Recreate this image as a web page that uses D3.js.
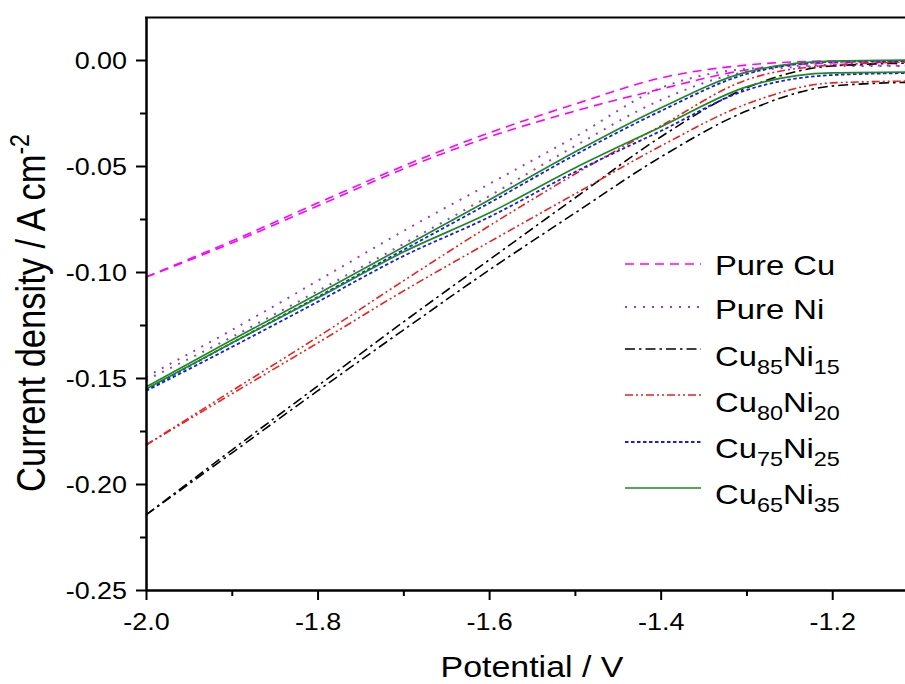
<!DOCTYPE html>
<html>
<head>
<meta charset="utf-8">
<script src="https://cdn.jsdelivr.net/npm/d3@7"></script>
<style>
  html, body { margin: 0; padding: 0; background: #fff; }
  svg { display: block; font-family: "Liberation Sans", Arial, sans-serif; }
</style>
</head>
<body>
<div id="chart"></div>
<script>
// potential (V) and the two scan branches of every curve (A cm-2)
const potential = [-2.0, -1.9, -1.8, -1.7, -1.6, -1.5, -1.4, -1.3, -1.2, -1.1];

const pureCuA = [-0.1024, -0.0854, -0.0675, -0.0500, -0.0344, -0.0208, -0.0085, -0.0024, -0.0005, -0.0005];
const pureCuB = [-0.1024, -0.0863, -0.0689, -0.0514, -0.0363, -0.0241, -0.0137, -0.0047, -0.0014, -0.0009];

const pureNiA = [-0.1495, -0.1274, -0.1042, -0.0807, -0.0585, -0.0363, -0.0132, -0.0042, -0.0024, -0.0028];
const pureNiB = [-0.1510, -0.1307, -0.1090, -0.0868, -0.0642, -0.0406, -0.0189, -0.0057, -0.0028, -0.0028];

const cu85A = [-0.2146, -0.1840, -0.1538, -0.1236, -0.0943, -0.0651, -0.0363, -0.0132, -0.0028, -0.0014];
const cu85B = [-0.2146, -0.1854, -0.1561, -0.1274, -0.0991, -0.0722, -0.0458, -0.0241, -0.0123, -0.0104];

const cu80A = [-0.1816, -0.1561, -0.1307, -0.1042, -0.0783, -0.0538, -0.0311, -0.0094, -0.0024, -0.0009];
const cu80B = [-0.1816, -0.1575, -0.1335, -0.1090, -0.0859, -0.0632, -0.0406, -0.0208, -0.0108, -0.0099];

const cu75A = [-0.1557, -0.1335, -0.1118, -0.0896, -0.0675, -0.0448, -0.0241, -0.0066, -0.0009, -0.0005];
const cu75B = [-0.1561, -0.1354, -0.1141, -0.0925, -0.0741, -0.0528, -0.0335, -0.0142, -0.0071, -0.0061];

const cu65A = [-0.1542, -0.1321, -0.1104, -0.0882, -0.0660, -0.0434, -0.0226, -0.0057, -0.0005, 0.0000];
const cu65B = [-0.1552, -0.1335, -0.1123, -0.0906, -0.0722, -0.0509, -0.0316, -0.0127, -0.0061, -0.0057];

// legend labels: [text, subscript, text, subscript]
const labels = [
    ["Pure Cu"],
    ["Pure Ni"],
    ["Cu", "85", "Ni", "15"],
    ["Cu", "80", "Ni", "20"],
    ["Cu", "75", "Ni", "25"],
    ["Cu", "65", "Ni", "35"]
];

const xTicks = [-2.0, -1.8, -1.6, -1.4, -1.2];
const yTicks = [0.00, -0.05, -0.10, -0.15, -0.20, -0.25];

// styles per curve
const styles = [
    { color: "#ff00ff", dash: "9,6", width: 1.6 },
    { color: "#9a3ccc", dash: "2,7", width: 2 },
    { color: "#000000", dash: "10,4,2.5,4", width: 1.6 },
    { color: "#f01e1e", dash: "8,3,2,3,2,3", width: 1.6 },
    { color: "#1a1aee", dash: "3.5,2.5", width: 1.8 },
    { color: "#1c8a1c", dash: null, width: 1.7 }
];

const branches = [
    [pureCuA, pureCuB], [pureNiA, pureNiB], [cu85A, cu85B],
    [cu80A, cu80B], [cu75A, cu75B], [cu65A, cu65B]
];

const width = 905, height = 684;
const margin = { left: 146, top: 17.6, right: -13, bottom: 94 };
const sx = 1.17; // text in the figure is a bit wider than tall

const svg = d3.select("#chart").append("svg")
    .attr("width", width)
    .attr("height", height);

const x = d3.scaleLinear()
    .domain([-2.0, -1.1])
    .range([margin.left, width - margin.right]);

const y = d3.scaleLinear()
    .domain([-0.25, 0.02])
    .range([height - margin.bottom, margin.top]);

// curves
const line = d3.line()
    .x(d => x(d[0]))
    .y(d => y(d[1]))
    .curve(d3.curveMonotoneX);

branches.forEach((pair, i) => {
    pair.forEach(vals => {
        svg.append("path")
           .datum(potential.map((p, k) => [p, vals[k]]))
           .attr("d", line)
           .attr("fill", "none")
           .attr("stroke", styles[i].color)
           .attr("stroke-width", styles[i].width)
           .attr("stroke-dasharray", styles[i].dash);
    });
});

// axes
const x0 = x.range()[0], y0 = y.range()[0];

const xAxis = svg.append("g")
   .attr("transform", `translate(0,${y0})`)
   .call(d3.axisBottom(x).tickValues(xTicks).tickSize(10).tickSizeOuter(0).tickFormat(d => d.toFixed(1)));

const xMinor = svg.append("g")
   .attr("transform", `translate(0,${y0})`)
   .call(d3.axisBottom(x).tickValues([-1.9, -1.7, -1.5, -1.3, -1.1]).tickSize(6).tickSizeOuter(0).tickFormat(""));

const yAxis = svg.append("g")
   .attr("transform", `translate(${x0},0)`)
   .call(d3.axisLeft(y).tickValues(yTicks).tickSize(10).tickSizeOuter(0).tickFormat(d => d.toFixed(2)));

const yMinor = svg.append("g")
   .attr("transform", `translate(${x0},0)`)
   .call(d3.axisLeft(y).tickValues([-0.025, -0.075, -0.125, -0.175, -0.225]).tickSize(6).tickSizeOuter(0).tickFormat(""));

[xAxis, xMinor, yAxis, yMinor].forEach(g => {
    g.select(".domain").attr("stroke", "#000").attr("stroke-width", 2);
    g.selectAll(".tick line").attr("stroke", "#000").attr("stroke-width", 2);
});

xAxis.selectAll(".tick text")
   .attr("y", 0).attr("dy", 0)
   .attr("font-size", 23)
   .attr("font-family", "Liberation Sans, Arial, sans-serif")
   .attr("fill", "#000")
   .attr("transform", `translate(0,${630 - y0}) scale(${sx},1)`);

yAxis.selectAll(".tick text")
   .attr("x", 0).attr("dy", "0.35em")
   .attr("font-size", 23)
   .attr("font-family", "Liberation Sans, Arial, sans-serif")
   .attr("fill", "#000")
   .attr("transform", `translate(-19,0) scale(${sx},1)`);

// top frame line (right side is outside the picture)
svg.append("line")
   .attr("x1", x0 - 1).attr("x2", width)
   .attr("y1", y.range()[1]).attr("y2", y.range()[1])
   .attr("stroke", "#000").attr("stroke-width", 2);
svg.append("line")
   .attr("x1", x.range()[1]).attr("x2", x.range()[1])
   .attr("y1", y.range()[1]).attr("y2", y0)
   .attr("stroke", "#000").attr("stroke-width", 2);

// axis titles
svg.append("text")
   .attr("transform", `translate(532,677) scale(${sx},1)`)
   .attr("text-anchor", "middle")
   .attr("font-size", 29)
   .text("Potential / V");

const yt = svg.append("text")
   .attr("transform", `translate(45,313) rotate(-90) scale(1,${sx})`)
   .attr("text-anchor", "middle")
   .attr("font-size", 34.5);
yt.append("tspan").text("Current density / A cm");
yt.append("tspan").attr("font-size", 23).attr("dy", -14).text("-2");

// legend
const legX = 625, legTextX = 715;
const legLineY = [264, 307, 349, 395, 442, 488];
const legBase = [275, 319, 366, 412, 458, 504];

labels.forEach((parts, i) => {
    svg.append("line")
       .attr("x1", legX).attr("x2", legX + 76)
       .attr("y1", legLineY[i]).attr("y2", legLineY[i])
       .attr("stroke", styles[i].color)
       .attr("stroke-width", styles[i].width)
       .attr("stroke-dasharray", styles[i].dash);

    const t = svg.append("text")
       .attr("transform", `translate(${legTextX},${legBase[i]}) scale(${sx},1)`)
       .attr("font-size", 28);
    parts.forEach((p, k) => {
        const sub = k % 2 === 1;
        t.append("tspan")
         .attr("font-size", sub ? 20 : 28)
         .attr("dy", k === 0 ? 0 : (sub ? 8 : -8))
         .text(p);
    });
});
</script>
</body>
</html>
